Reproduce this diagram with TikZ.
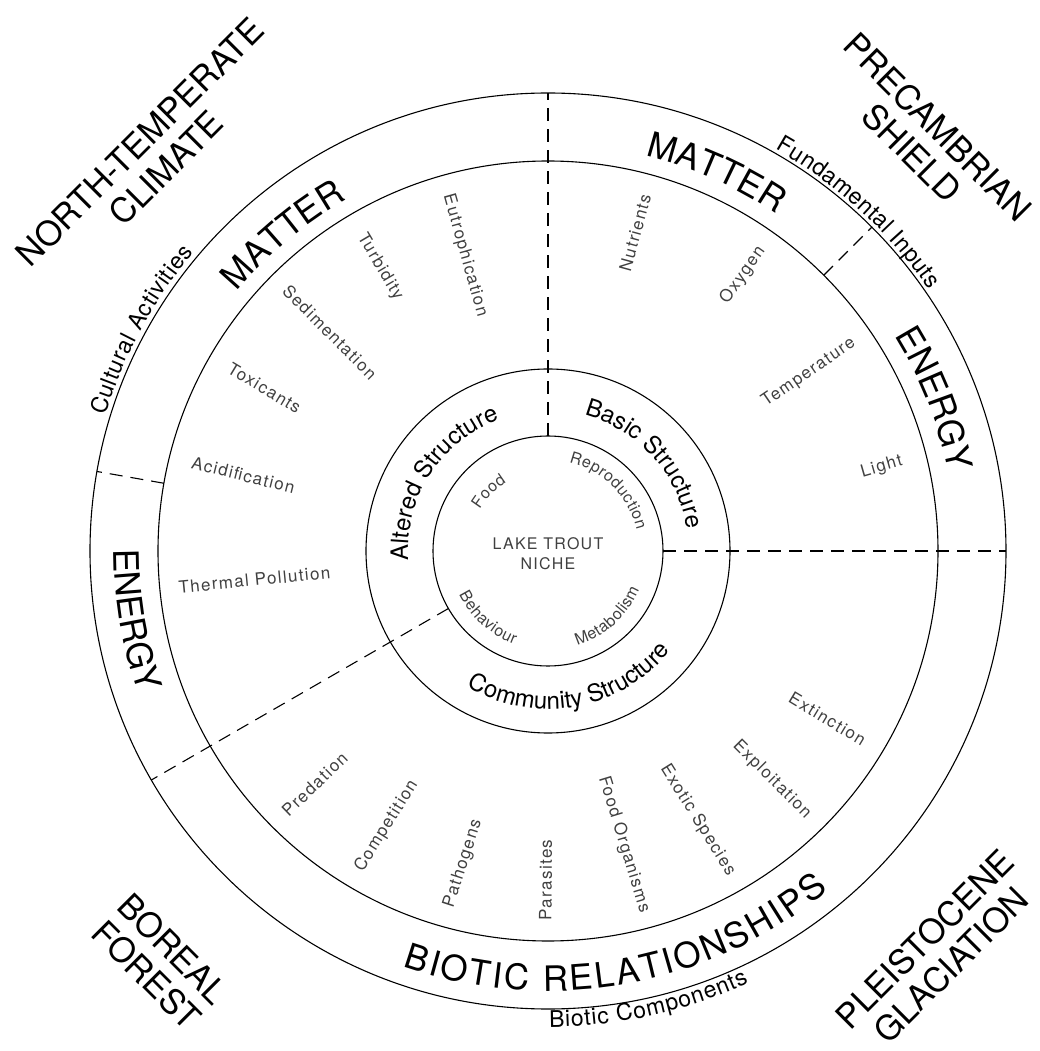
\documentclass[tikz,border=0pt]{standalone}
\usepackage{fontspec}
\setmainfont{TeX Gyre Heros}
\newfontfamily\spacedfont[LetterSpace=8]{TeX Gyre Heros}
\usetikzlibrary{decorations.text}

\newcommand\bandfont{\fontsize{35}{38}\selectfont}
\newcommand\ringfont{\fontsize{24}{26}\selectfont}
\newcommand\edgefont{\fontsize{23}{25}\selectfont}
\newcommand\nichefont{\fontsize{16}{18}\selectfont}

\begin{document}
\begin{tikzpicture}[
    x=1pt, y=1pt,
    ring/.style={line width=1.1pt},
    divider/.style={line width=1.1pt, dash pattern=on 13pt off 8pt},
    item/.style={font=\spacedfont\fontsize{17}{20}\selectfont, text=black!75, inner sep=0pt},
    region/.style={font=\fontsize{34}{37}\selectfont, align=center, inner sep=0pt},
    arctext/.style={decorate, decoration={text along path, text align=center, text={#1}}}
]
    \useasboundingbox (-548,-500) rectangle (492,551);

    % Circles
    \draw[ring] (0,0) circle[radius=115];
    \draw[ring] (0,0) circle[radius=182];
    \draw[ring] (0,0) circle[radius=390];
    \draw[ring] (0,0) circle[radius=458];

    % Dashed dividers
    \draw[divider] (90:115) -- (90:458);
    \draw[divider] (0:115) -- (0:458);
    \draw[divider] (210:115) -- (210:458);
    \draw[divider] (170:390) -- (170:458);
    \draw[divider] (45:390) -- (45:458);

    % Centre
    \node[font=\spacedfont\nichefont, text=black!75, align=center] (niche) at (0,-3) {LAKE TROUT\\[2pt]NICHE};

    % Labels just inside the niche circle
    \path[arctext={|\nichefont\color{black!75}\kern0.5pt|Food}] (165:80) arc[start angle=165, end angle=105, radius=80];
    \path[arctext={|\nichefont\color{black!75}\kern0.5pt|Reproduction}] (95:91) arc[start angle=95, end angle=-5, radius=91];
    \path[arctext={|\nichefont\color{black!75}\kern0.5pt|Behaviour}] (185:99) arc[start angle=185, end angle=271, radius=99];
    \path[arctext={|\nichefont\color{black!75}\kern0.5pt|Metabolism}] (269:99) arc[start angle=269, end angle=355, radius=99];

    % Structure ring
    \path[arctext={|\ringfont|Altered Structure}] (205:140) arc[start angle=205, end angle=89, radius=140];
    \path[arctext={|\ringfont|Basic Structure}] (95:141) arc[start angle=95, end angle=-11, radius=141];
    \path[arctext={|\ringfont|Community Structure}] (215:158) arc[start angle=215, end angle=345, radius=158];

    % Radial items
    \foreach \ang/\rad/\rot/\nm/\txt in {
        74.7/330/74.7/nutr/Nutrients, 54.8/338/54.8/oxyg/Oxygen,
        34.4/316/34.4/temp/Temperature, 14.1/344/16/lght/Light,
        105.7/307/-74.3/eutr/Eutrophication, 120.6/330/-59.4/turb/Turbidity,
        134.9/309/-45.1/sedi/Sedimentation, 150.1/327/-31/toxi/Toxicants,
        166/314/-14/acid/Acidification, 185.6/295/5.6/ther/Thermal Pollution,
        225/330/44/pred/Predation, 239.6/319/58/comp/Competition,
        254.8/324/72/path/Pathogens, 269.6/329/89.6/para/Parasites,
        284.5/303/-73/fdor/Food Organisms, 299.1/308/-58/exot/Exotic Species,
        314.4/320/-45/expl/Exploitation, 329/326/-31/extn/Extinction}
        \node[item, rotate=\rot] (\nm) at (\ang:\rad) {\txt};

    % Band labels
    \path[arctext={|\bandfont|MATTER}] (160:405) arc[start angle=160, end angle=100, radius=405];
    \path[arctext={|\bandfont|MATTER}] (96:407) arc[start angle=96, end angle=36, radius=407];
    \path[arctext={|\bandfont|ENERGY}] (51:408) arc[start angle=51, end angle=-8, radius=408];
    \path[arctext={|\bandfont|ENERGY}] (160:434) arc[start angle=160, end angle=219, radius=434];
    \path[arctext={|\bandfont\kern2.4pt|BIOTIC  RELATIONSHIPS}] (222:440) arc[start angle=222, end angle=338, radius=440];

    % Outside the rim
    \path[arctext={|\edgefont\kern0.6pt|Cultural Activities}] (185:463) arc[start angle=185, end angle=118, radius=463];
    \path[arctext={|\edgefont\kern0.4pt|Fundamental Inputs}] (82:462) arc[start angle=82, end angle=13, radius=462];
    \path[arctext={|\edgefont\kern0.8pt|Biotic Components}] (250:476) arc[start angle=250, end angle=315, radius=476];

    % Corner regions
    \node[region, rotate=45] (climate) at (-395,396) {NORTH-TEMPERATE\\CLIMATE};
    \node[region, rotate=-45] (shield) at (377,411) {PRECAMBRIAN\\SHIELD};
    \node[region, rotate=-45] (forest) at (-388,-411) {BOREAL\\FOREST};
    \node[region, rotate=45] (glacial) at (390,-401) {PLEISTOCENE\\GLACIATION};

\end{tikzpicture}
\end{document}
